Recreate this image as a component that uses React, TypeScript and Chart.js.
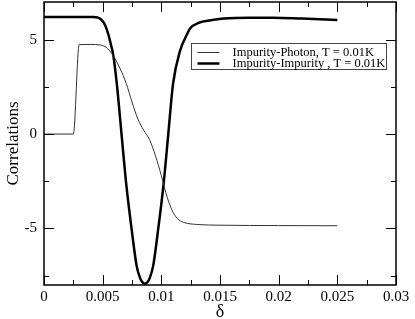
import React, { useEffect, useRef } from 'react';
import { Chart, registerables } from 'chart.js';

Chart.register(...registerables);

// Impurity-Photon correlation (thin line)
const photonX = [0, 0.0025, 0.003, 0.004, 0.0048, 0.0052, 0.0056, 0.006, 0.0065, 0.007, 0.0075, 0.008, 0.0085, 0.009, 0.0095, 0.01, 0.0105, 0.011, 0.0115, 0.012, 0.013, 0.015, 0.02, 0.025];
const photonY = [0, 0, 4.74, 4.75, 4.72, 4.64, 4.42, 4.05, 3.45, 2.7, 1.7, 0.8, 0.2, -0.3, -1.15, -2.2, -3.35, -4.15, -4.55, -4.7, -4.79, -4.83, -4.85, -4.86];

// Impurity-Impurity correlation (thick line)
const impurityX = [0, 0.0042, 0.0046, 0.0049, 0.0052, 0.0055, 0.0057, 0.0059, 0.0062, 0.0066, 0.007, 0.0075, 0.0079, 0.0082, 0.0084, 0.0086, 0.0088, 0.009, 0.0093, 0.0097, 0.0102, 0.0106, 0.011, 0.0116, 0.0122, 0.01245, 0.0132, 0.0142, 0.0153, 0.0175, 0.0195, 0.022, 0.025];
const impurityY = [6.2, 6.2, 6.17, 6.05, 5.78, 5.25, 4.75, 4.2, 2.7, 0.05, -2.6, -5.2, -7.0, -7.65, -7.86, -7.93, -7.86, -7.65, -7.0, -5.2, -2.6, 0.05, 2.67, 4.42, 5.3, 5.6, 5.9, 6.03, 6.12, 6.17, 6.17, 6.12, 6.05];

const seriesLabels = ['Impurity-Photon, T = 0.01K', 'Impurity-Impurity , T = 0.01K'];

const xTicks = [0, 0.005, 0.01, 0.015, 0.02, 0.025, 0.03];
const xTickLabels = ['0', '0.005', '0.01', '0.015', '0.02', '0.025', '0.03'];
const xMinorTicks = [0.0025, 0.0075, 0.0125, 0.0175, 0.0225, 0.0275];
const yTicks = [-5, 0, 5];
const yTickLabels = ['-5', '0', '5'];
const yMinorTicks = [-7.5, -2.5, 2.5];

const FONT = '"Liberation Serif", "Times New Roman", serif';

const framePlugin = {
  id: 'frame',
  afterDatasetsDraw(chart: any) {
    const { ctx, chartArea: a, scales } = chart;
    const x = scales.x;
    const y = scales.y;
    ctx.save();
    ctx.strokeStyle = '#000';
    ctx.lineWidth = 1;
    const majorLen = 10;
    const minorLen = 5;
    const drawX = (v: number, len: number) => {
      const px = Math.round(x.getPixelForValue(v)) + 0.5;
      ctx.beginPath();
      ctx.moveTo(px, a.bottom);
      ctx.lineTo(px, a.bottom - len);
      ctx.moveTo(px, a.top);
      ctx.lineTo(px, a.top + len);
      ctx.stroke();
    };
    const drawY = (v: number, len: number) => {
      const py = Math.round(y.getPixelForValue(v)) + 0.5;
      ctx.beginPath();
      ctx.moveTo(a.left, py);
      ctx.lineTo(a.left + len, py);
      ctx.moveTo(a.right, py);
      ctx.lineTo(a.right - len, py);
      ctx.stroke();
    };
    xTicks.forEach((v) => drawX(v, majorLen));
    xMinorTicks.forEach((v) => drawX(v, minorLen));
    yTicks.forEach((v) => drawY(v, majorLen));
    yMinorTicks.forEach((v) => drawY(v, minorLen));
    ctx.lineWidth = 1.5;
    ctx.strokeRect(a.left, a.top, a.right - a.left, a.bottom - a.top);
    ctx.restore();
  },
  afterDraw(chart: any) {
    const { ctx, chartArea: a } = chart;
    const bx = Math.round(a.left + 147) + 0.5;
    const by = Math.round(a.top + 41) + 0.5;
    const bw = 195;
    const bh = 26;
    ctx.save();
    ctx.fillStyle = '#fff';
    ctx.fillRect(bx, by, bw, bh);
    ctx.strokeStyle = '#444';
    ctx.lineWidth = 1;
    ctx.strokeRect(bx, by, bw, bh);
    const ds = chart.data.datasets;
    const rows = [by + 9, by + 20];
    ds.forEach((d: any, i: number) => {
      const ry = rows[i];
      ctx.strokeStyle = d.borderColor;
      ctx.lineWidth = d.borderWidth;
      ctx.beginPath();
      ctx.moveTo(bx + 6, ry);
      ctx.lineTo(bx + 28, ry);
      ctx.stroke();
      ctx.fillStyle = '#000';
      ctx.font = `12.5px ${FONT}`;
      ctx.textBaseline = 'middle';
      ctx.textAlign = 'left';
      ctx.fillText(d.label, bx + 41, ry);
    });
    ctx.restore();
  },
};

export default function App() {
  const ref = useRef<HTMLCanvasElement | null>(null);
  useEffect(() => {
    if (!ref.current) return;
    const chart = new Chart(ref.current, {
      type: 'line',
      data: {
        datasets: [
          {
            label: seriesLabels[0],
            data: photonX.map((v, i) => ({ x: v, y: photonY[i] })),
            borderColor: '#333',
            borderWidth: 1,
            pointRadius: 0,
            cubicInterpolationMode: 'monotone',
            fill: false,
          },
          {
            label: seriesLabels[1],
            data: impurityX.map((v, i) => ({ x: v, y: impurityY[i] })),
            borderColor: '#000',
            borderWidth: 2.5,
            pointRadius: 0,
            cubicInterpolationMode: 'monotone',
            fill: false,
          },
        ],
      },
      options: {
        animation: false,
        responsive: false,
        events: [],
        layout: { padding: { top: 2, right: 19, left: 0, bottom: 0 } },
        plugins: { legend: { display: false }, tooltip: { enabled: false } },
        scales: {
          x: {
            type: 'linear',
            min: 0,
            max: 0.03,
            grid: { display: false, drawTicks: false },
            border: { display: false },
            afterBuildTicks: (s: any) => {
              s.ticks = xTicks.map((v) => ({ value: v }));
            },
            afterFit: (s: any) => {
              s.height = 34;
              s.paddingLeft = 0;
              s.paddingRight = 0;
            },
            ticks: {
              autoSkip: false,
              maxRotation: 0,
              padding: 3,
              color: '#000',
              font: { family: FONT, size: 15 },
              callback: (_v: any, i: number) => xTickLabels[i],
            },
            title: {
              display: true,
              text: 'δ',
              color: '#000',
              font: { family: FONT, size: 18 },
              padding: { top: 0, bottom: -4 },
            },
          },
          y: {
            type: 'linear',
            min: -8,
            max: 7,
            grid: { display: false, drawTicks: false },
            border: { display: false },
            afterBuildTicks: (s: any) => {
              s.ticks = yTicks.map((v) => ({ value: v }));
            },
            afterFit: (s: any) => {
              s.width = 44;
              s.paddingTop = 0;
              s.paddingBottom = 0;
            },
            ticks: {
              autoSkip: false,
              padding: 7,
              color: '#000',
              font: { family: FONT, size: 15 },
              callback: (_v: any, i: number) => yTickLabels[i],
            },
            title: {
              display: true,
              text: 'Correlations',
              color: '#000',
              font: { family: FONT, size: 17 },
              padding: { top: 3, bottom: 0 },
            },
          },
        },
      },
      plugins: [framePlugin],
    });
    return () => chart.destroy();
  }, []);
  return (
    <div style={{ position: 'absolute', left: 0, top: 0, width: 415, height: 319, background: '#fff' }}>
      <canvas ref={ref} width={415} height={319} />
    </div>
  );
}
